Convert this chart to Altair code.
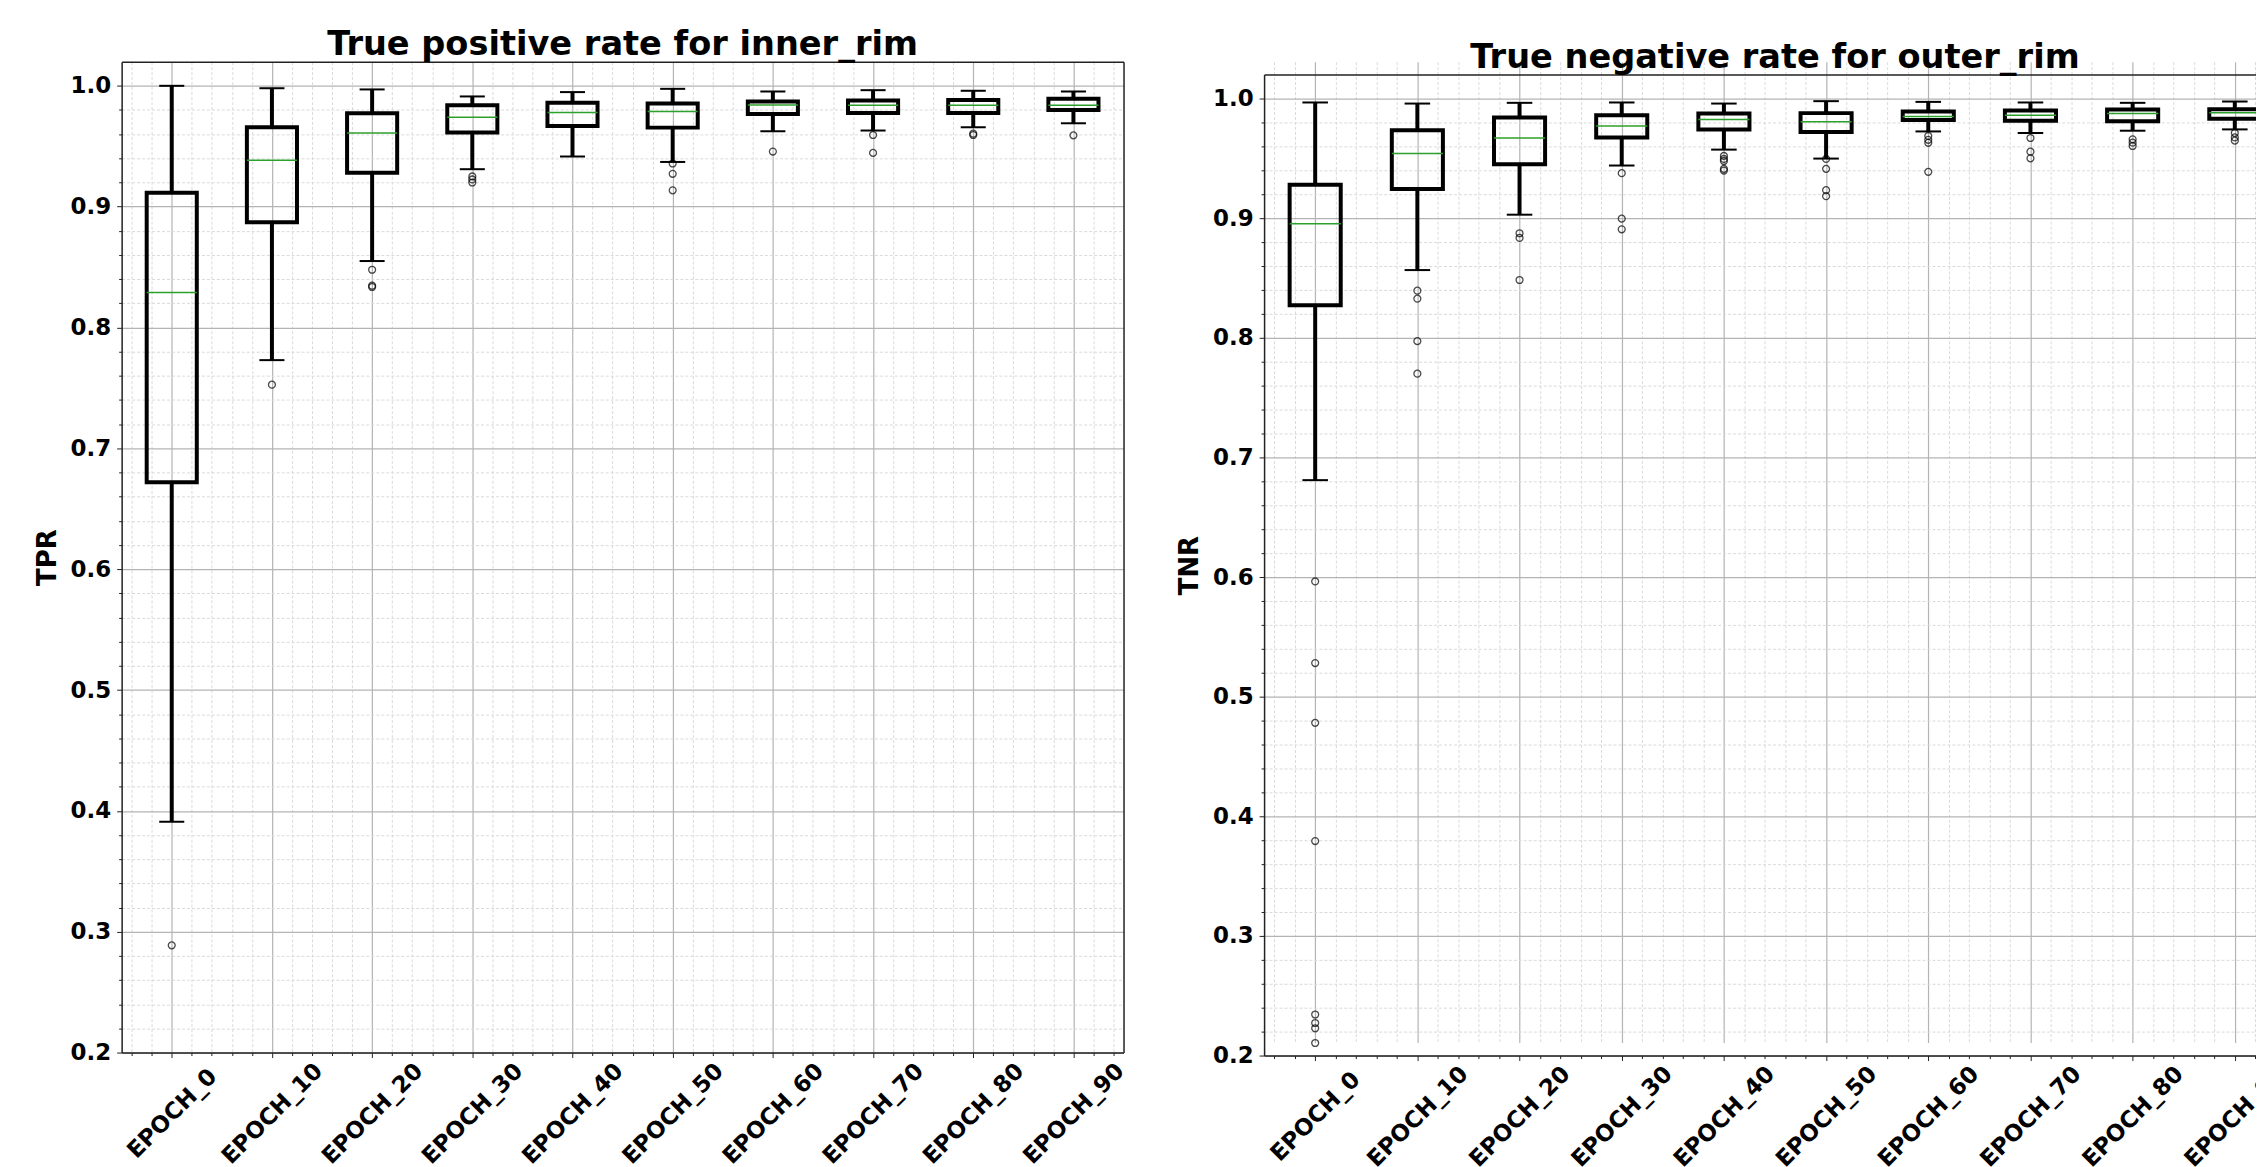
import json
import altair as alt
import pandas as pd

FONT = "DejaVu Sans"

EPOCHS = ["EPOCH_0", "EPOCH_10", "EPOCH_20", "EPOCH_30", "EPOCH_40",
          "EPOCH_50", "EPOCH_60", "EPOCH_70", "EPOCH_80", "EPOCH_90"]

# ---- True positive rate, inner_rim ----
TPR_LOW = [0.391, 0.773, 0.855, 0.931, 0.9415, 0.937, 0.9624, 0.963, 0.9657, 0.969]
TPR_Q1 = [0.672, 0.887, 0.928, 0.9613, 0.9668, 0.9654, 0.9766, 0.9775, 0.9775, 0.980]
TPR_MED = [0.829, 0.9385, 0.961, 0.9739, 0.978, 0.9788, 0.9841, 0.984, 0.984, 0.984]
TPR_Q3 = [0.9115, 0.9657, 0.9772, 0.984, 0.986, 0.9854, 0.9871, 0.9879, 0.9882, 0.9893]
TPR_HIGH = [1.0, 0.998, 0.997, 0.9912, 0.9948, 0.9975, 0.9953, 0.9964, 0.9959, 0.9953]
TPR_OUT_EPOCH = ["EPOCH_0", "EPOCH_10",
                 "EPOCH_20", "EPOCH_20", "EPOCH_20",
                 "EPOCH_30", "EPOCH_30", "EPOCH_30",
                 "EPOCH_50", "EPOCH_50", "EPOCH_50",
                 "EPOCH_60",
                 "EPOCH_70", "EPOCH_70",
                 "EPOCH_80", "EPOCH_80",
                 "EPOCH_90"]
TPR_OUT_VALUE = [0.2887, 0.7527,
                 0.8478, 0.8346, 0.8335,
                 0.925, 0.9225, 0.920,
                 0.9357, 0.9272, 0.9135,
                 0.9456,
                 0.9593, 0.9445,
                 0.9604, 0.9593,
                 0.959]

# ---- True negative rate, outer_rim ----
TNR_LOW = [0.681, 0.8566, 0.9029, 0.944, 0.9573, 0.9498, 0.9725, 0.9712, 0.9731, 0.9742]
TNR_Q1 = [0.8272, 0.9243, 0.945, 0.9675, 0.9742, 0.972, 0.982, 0.9814, 0.9811, 0.9831]
TNR_MED = [0.8954, 0.954, 0.967, 0.977, 0.9825, 0.9806, 0.985, 0.9861, 0.9875, 0.9881]
TNR_Q3 = [0.9279, 0.9734, 0.9842, 0.9861, 0.9875, 0.9878, 0.9892, 0.990, 0.9908, 0.9911]
TNR_HIGH = [0.9967, 0.9958, 0.9964, 0.9967, 0.9958, 0.9978, 0.9972, 0.9967, 0.9964, 0.9975]
TNR_OUT_EPOCH = (["EPOCH_0"] * 8 + ["EPOCH_10"] * 4 + ["EPOCH_20"] * 3 +
                 ["EPOCH_30"] * 3 + ["EPOCH_40"] * 5 + ["EPOCH_50"] * 4 +
                 ["EPOCH_60"] * 4 + ["EPOCH_70"] * 3 + ["EPOCH_80"] * 3 +
                 ["EPOCH_90"] * 3)
TNR_OUT_VALUE = [0.5963, 0.5281, 0.4781, 0.3793, 0.2343, 0.2272, 0.2228, 0.2105,
                 0.8394, 0.8327, 0.7972, 0.770,
                 0.8874, 0.8835, 0.8483,
                 0.9376, 0.8996, 0.8907,
                 0.952, 0.9495, 0.9478, 0.9412, 0.9398,
                 0.9495, 0.9412, 0.9234, 0.9184,
                 0.9687, 0.9655, 0.963, 0.9387,
                 0.967, 0.9556, 0.950,
                 0.9659, 0.9631, 0.9603,
                 0.9712, 0.9675, 0.9648]

POSITIONS = list(range(1, len(EPOCHS) + 1))
LABEL_EXPR = json.dumps(EPOCHS) + "[datum.value - 1]"
X_MINOR = [round(p / 5, 1) for p in range(3, 53) if p % 5 != 0]
Y_MAJOR = [round(v / 10, 1) for v in range(2, 11)]
Y_MINOR = [round(v / 100, 2) for v in range(22, 101, 2) if v % 10 != 0]

SPINE = "#222222"


def stats_frame(low, q1, med, q3, high):
    return pd.DataFrame({"epoch": EPOCHS, "pos": POSITIONS, "low": low, "q1": q1,
                         "med": med, "q3": q3, "high": high})


def outlier_frame(epochs, values):
    return pd.DataFrame({"epoch": epochs,
                         "pos": [EPOCHS.index(e) + 1 for e in epochs],
                         "value": values})


def panel(title, ytitle, st, out, width, height, y_range, title_offset, top_offset):
    xs = alt.Scale(domain=[0.5, 10.5], nice=False, zero=False)
    ys = alt.Scale(domain=[0.2, 1.02], range=y_range, nice=False, zero=False)
    base = alt.Chart(st).transform_calculate(
        x_lo="datum.pos - 0.25", x_hi="datum.pos + 0.25",
        c_lo="datum.pos - 0.125", c_hi="datum.pos + 0.125")

    minor = base.mark_point(opacity=0).encode(
        x=alt.X("pos:Q", scale=xs, axis=alt.Axis(
            orient="bottom", values=X_MINOR, grid=True, gridColor="#dadada",
            gridDash=[3, 2], gridWidth=1, labels=False, ticks=True, tickSize=3,
            tickColor=SPINE, tickWidth=1, domain=False, title=None)),
        y=alt.Y("med:Q", scale=ys, axis=alt.Axis(
            orient="left", values=Y_MINOR, grid=True, gridColor="#dadada",
            gridDash=[3, 2], gridWidth=1, labels=False, ticks=True, tickSize=3,
            tickColor=SPINE, tickWidth=1, domain=False, title=None)))

    spines = base.mark_point(opacity=0).encode(
        x=alt.X("pos:Q", scale=xs, axis=alt.Axis(
            orient="top", domain=True, domainColor=SPINE, domainWidth=1.5,
            labels=False, ticks=False, grid=False, title=None, offset=top_offset)),
        y=alt.Y("med:Q", scale=ys, axis=alt.Axis(
            orient="right", domain=True, domainColor=SPINE, domainWidth=1.5,
            labels=False, ticks=False, grid=False, title=None)))

    boxes = base.mark_rect(fillOpacity=0, stroke="black", strokeWidth=4).encode(
        x=alt.X("x_lo:Q", scale=xs, axis=alt.Axis(
            orient="bottom", values=POSITIONS, labelExpr=LABEL_EXPR, grid=True,
            gridColor="#b4b4b4", gridWidth=1.2, tickSize=5, tickColor=SPINE,
            labelAngle=315, labelAlign="center", labelBaseline="middle",
            labelPadding=56, labelFontSize=23, labelFont=FONT,
            labelFontWeight="bold", labelColor="black", labelOverlap=False,
            labelFlush=False, domain=True, domainColor=SPINE, domainWidth=1.5,
            title=None)),
        x2="x_hi:Q",
        y=alt.Y("q1:Q", scale=ys, axis=alt.Axis(
            orient="left", values=Y_MAJOR, format=".1f", grid=True,
            gridColor="#b4b4b4", gridWidth=1.2, tickSize=5, tickColor=SPINE,
            labelPadding=6, labelFontSize=23, labelFont=FONT,
            labelFontWeight="bold", labelColor="black", domain=True,
            domainColor=SPINE, domainWidth=1.5, title=ytitle,
            titleFont=FONT, titleFontSize=26, titleFontWeight="bold",
            titleColor="black", titlePadding=10)),
        y2="q3:Q")

    whisk_lo = base.mark_rule(color="black", strokeWidth=4).encode(
        x=alt.X("pos:Q", scale=xs, axis=None),
        y=alt.Y("low:Q", scale=ys, axis=None), y2="q1:Q")
    whisk_hi = base.mark_rule(color="black", strokeWidth=4).encode(
        x=alt.X("pos:Q", scale=xs, axis=None),
        y=alt.Y("q3:Q", scale=ys, axis=None), y2="high:Q")
    cap_lo = base.mark_rule(color="black", strokeWidth=2).encode(
        x=alt.X("c_lo:Q", scale=xs, axis=None), x2="c_hi:Q",
        y=alt.Y("low:Q", scale=ys, axis=None))
    cap_hi = base.mark_rule(color="black", strokeWidth=2).encode(
        x=alt.X("c_lo:Q", scale=xs, axis=None), x2="c_hi:Q",
        y=alt.Y("high:Q", scale=ys, axis=None))
    median = base.mark_rule(color="#2ca02c", strokeWidth=1.5).encode(
        x=alt.X("x_lo:Q", scale=xs, axis=None), x2="x_hi:Q",
        y=alt.Y("med:Q", scale=ys, axis=None))
    fliers = alt.Chart(out).mark_point(
        shape="circle", filled=False, color="black", size=48, strokeWidth=1.3
    ).encode(
        x=alt.X("pos:Q", scale=xs, axis=None),
        y=alt.Y("value:Q", scale=ys, axis=None))

    return alt.layer(minor, spines, boxes, whisk_lo, whisk_hi, cap_lo, cap_hi,
                     median, fliers).resolve_axis(
        x="independent", y="independent").properties(
        width=width, height=height,
        title=alt.Title(title, font=FONT, fontSize=33.7, fontWeight="bold",
                        anchor="middle", color="black", offset=title_offset))


left = panel("True positive rate for inner_rim", "TPR",
             stats_frame(TPR_LOW, TPR_Q1, TPR_MED, TPR_Q3, TPR_HIGH),
             outlier_frame(TPR_OUT_EPOCH, TPR_OUT_VALUE),
             1005, 994, [994, 0], 0, 0)
right = panel("True negative rate for outer_rim", "TNR",
              stats_frame(TNR_LOW, TNR_Q1, TNR_MED, TNR_Q3, TNR_HIGH),
              outlier_frame(TNR_OUT_EPOCH, TNR_OUT_VALUE),
              1025, 997, [997, 13], -13, -13)

chart = alt.hconcat(left, right, spacing=46).properties(
    padding={"left": 25, "top": 17, "right": -35, "bottom": -2},
    background="white",
).configure(font=FONT).configure_view(stroke="transparent")

chart.save("out.html", embed_options={"renderer": "svg", "actions": False})
